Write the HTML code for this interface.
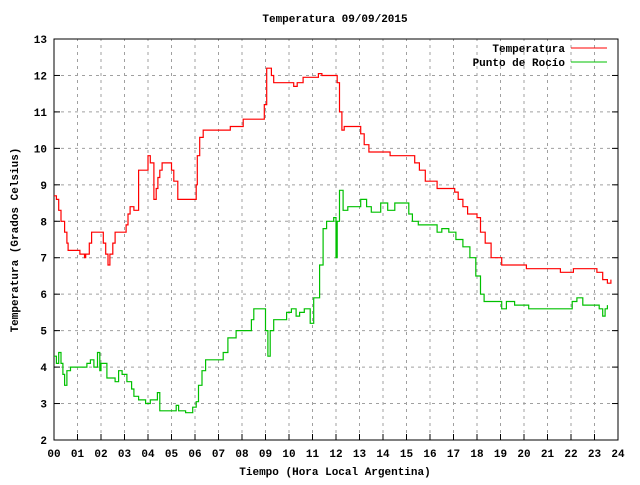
<!DOCTYPE html>
<html><head><meta charset="utf-8"><style>
body{margin:0;background:#fff}
svg text{font-family:"Liberation Mono","DejaVu Sans Mono",monospace;font-size:11px;font-weight:bold;fill:#000}
</style></head><body>
<svg id="c" width="640" height="480" xmlns="http://www.w3.org/2000/svg">
<rect width="640" height="480" fill="#fff"/>
<g id="grid"></g><g id="axes"></g><g id="series"></g>
<text x="335" y="22" text-anchor="middle">Temperatura 09/09/2015</text>
<text x="335" y="475" text-anchor="middle">Tiempo (Hora Local Argentina)</text>
<text transform="translate(18,240) rotate(-90)" text-anchor="middle">Temperatura (Grados Celsius)</text>
<g>
<text x="565" y="52" text-anchor="end">Temperatura</text>
<line x1="571" y1="48" x2="607" y2="48" stroke="#ff0000"/>
<text x="565" y="66" text-anchor="end">Punto de Rocío</text>
<line x1="571" y1="62" x2="607" y2="62" stroke="#00c000"/>
</g>
</svg>
<script>
const xTicks=["00","01","02","03","04","05","06","07","08","09","10","11","12","13","14","15","16","17","18","19","20","21","22","23","24"];
const yTicks=[2,3,4,5,6,7,8,9,10,11,12,13];
const tempHours=[0,0.1,0.2,0.3,0.45,0.55,0.6,1.1,1.3,1.35,1.5,1.6,2.1,2.2,2.3,2.38,2.5,2.6,3.07,3.15,3.24,3.4,3.6,4.0,4.1,4.25,4.35,4.42,4.5,4.6,5.0,5.1,5.27,5.6,6.05,6.1,6.2,6.35,7.5,8.05,8.95,9.05,9.25,9.35,10.2,10.35,10.6,11.25,11.4,12.05,12.15,12.25,12.35,12.5,13.05,13.2,13.4,14.3,15.35,15.55,15.8,16.3,17.05,17.2,17.4,17.6,18.0,18.15,18.35,18.6,19.05,20.1,21.55,21.9,22.1,23.1,23.35,23.55,23.7];
const tempValues=[8.7,8.6,8.3,8.0,7.7,7.4,7.2,7.1,7.0,7.1,7.4,7.7,7.4,7.1,6.8,7.1,7.4,7.7,7.9,8.2,8.4,8.3,9.4,9.8,9.6,8.6,8.9,9.2,9.4,9.6,9.4,9.1,8.6,8.6,9.0,9.8,10.3,10.5,10.6,10.8,11.2,12.2,12.0,11.8,11.7,11.8,11.95,12.05,12.0,11.8,11.0,10.5,10.6,10.6,10.4,10.1,9.9,9.8,9.6,9.4,9.1,8.9,8.8,8.6,8.4,8.2,8.1,7.7,7.4,7.0,6.8,6.7,6.6,6.6,6.7,6.6,6.4,6.3,6.4];
const dewHours=[0,0.1,0.2,0.3,0.38,0.45,0.55,0.7,1.4,1.55,1.7,1.85,1.95,2.0,2.05,2.15,2.25,2.6,2.75,2.9,3.1,3.3,3.4,3.6,3.9,4.1,4.4,4.5,4.6,5.2,5.3,5.6,5.9,6.05,6.15,6.3,6.45,7.2,7.4,7.6,7.75,8.4,8.5,8.6,9.0,9.1,9.2,9.35,9.55,9.9,10.1,10.3,10.45,10.65,10.9,11.05,11.3,11.45,11.6,11.9,12.0,12.05,12.15,12.3,12.5,13.05,13.3,13.5,13.9,14.2,14.5,15.1,15.25,15.5,16.3,16.5,16.8,17.1,17.4,17.7,17.95,18.15,18.3,18.45,19.05,19.25,19.6,20.2,22.05,22.25,22.5,23.2,23.35,23.45,23.55];
const dewValues=[4.3,4.1,4.4,4.1,3.8,3.5,3.9,4.0,4.1,4.2,4.0,4.4,3.9,4.1,4.1,4.1,3.7,3.6,3.9,3.8,3.6,3.4,3.2,3.1,3.0,3.1,3.3,2.8,2.8,2.95,2.8,2.75,2.9,3.05,3.5,3.9,4.2,4.4,4.8,4.8,5.0,5.3,5.6,5.6,5.0,4.3,5.0,5.3,5.3,5.5,5.6,5.4,5.5,5.6,5.2,5.9,6.8,7.8,8.0,8.1,7.0,8.0,8.85,8.3,8.4,8.6,8.4,8.25,8.5,8.3,8.5,8.2,8.0,7.9,7.7,7.8,7.7,7.5,7.3,7.0,6.5,6.0,5.8,5.8,5.6,5.8,5.7,5.6,5.8,5.9,5.7,5.6,5.4,5.6,5.7];
const X0=54,X1=618,Y0=440,Y1=39;
function xs(h){return X0+(X1-X0)*h/24;}
function ys(v){return Y0-(Y0-Y1)*(v-2)/11;}
const NS="http://www.w3.org/2000/svg";
const grid=document.getElementById('grid'),axes=document.getElementById('axes'),ser=document.getElementById('series');
function mk(tag,attrs,parent){const e=document.createElementNS(NS,tag);for(const k in attrs)e.setAttribute(k,attrs[k]);parent.appendChild(e);return e;}
xTicks.forEach((t,i)=>{const x=xs(i);
 if(i>0&&i<24){const g=mk('line',{x1:x,y1:Y0,x2:x,y2:Y1,stroke:'#a0a0a0','stroke-dasharray':'3,4'},grid);
 
 }
 const tk=mk('line',{x1:x,y1:Y0,x2:x,y2:Y0-6,stroke:'#000'},axes);
 
 
 const tx=mk('text',{x:x,y:Y0+17,'text-anchor':'middle'},axes);tx.textContent=t;
 
 });
yTicks.forEach(v=>{const y=ys(v);
 if(v>2&&v<13){const g=mk('line',{x1:X0,y1:y,x2:X1,y2:y,stroke:'#a0a0a0','stroke-dasharray':'3,4'},grid);
 
 }
 const tk=mk('line',{x1:X0,y1:y,x2:X0+6,y2:y,stroke:'#000'},axes);
 
 
 const tk2=mk('line',{x1:X1,y1:y,x2:X1-6,y2:y,stroke:'#000'},axes);
 
 
 const tx=mk('text',{x:X0-7,y:y+4,'text-anchor':'end'},axes);tx.textContent=v;
 
 });
const fr=mk('rect',{x:X0,y:Y1,width:X1-X0,height:Y0-Y1,fill:'none',stroke:'#000'},axes);


function step(hs,vs){let d='M'+xs(hs[0]).toFixed(1)+','+ys(vs[0]).toFixed(1);
 for(let i=1;i<hs.length;i++){d+='H'+xs(hs[i]).toFixed(1)+'V'+ys(vs[i]).toFixed(1);}return d;}
const pt=mk('path',{d:step(tempHours,tempValues),fill:'none',stroke:'#ff0000','stroke-width':1.2},ser);


const pd=mk('path',{d:step(dewHours,dewValues),fill:'none',stroke:'#00c000','stroke-width':1.2},ser);


</script>
</body></html>
